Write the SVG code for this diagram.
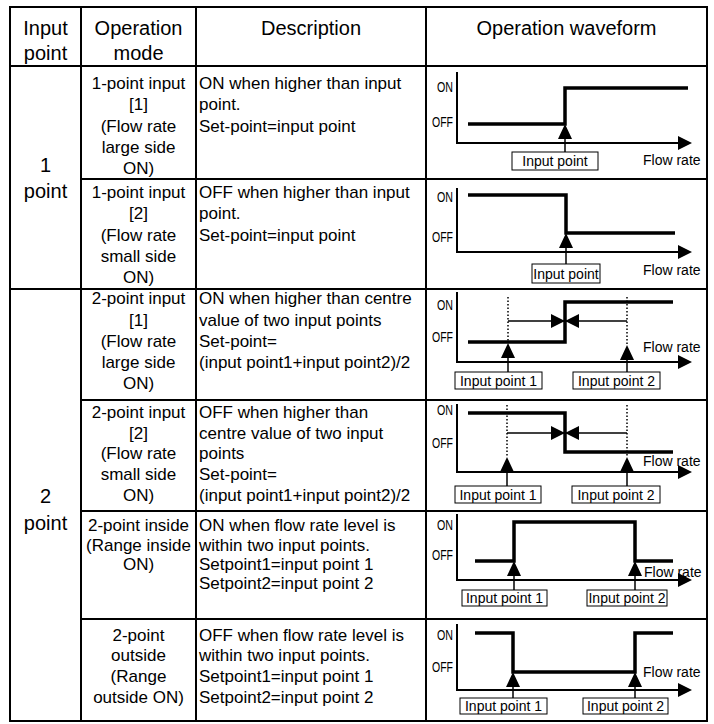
<svg xmlns="http://www.w3.org/2000/svg" width="714" height="724" viewBox="0 0 714 724">
<style>
text{font-family:"Liberation Sans",Arial,sans-serif;fill:#000}
.h{font-size:20px;text-anchor:middle}
.c{font-size:17px;text-anchor:middle}
.d{font-size:17px}
.lb{font-size:14px;text-anchor:middle}
.fr{font-size:14px}
.oo{font-size:15px;text-anchor:end}
.grid{stroke:#000;stroke-width:2;fill:none}
.ax{stroke:#000;stroke-width:2;fill:none}
.wave{stroke:#000;stroke-width:3.5;fill:none;stroke-linejoin:miter}
.thin{stroke:#000;stroke-width:1.5;fill:none}
.dot{stroke:#000;stroke-width:1.5;fill:none;stroke-dasharray:1.5 2}
.box{stroke:#000;stroke-width:1;fill:#fff}
</style>
<defs>
<path id="up" d="M0,0 L-7,15 L7,15 Z" fill="#000"/>
<path id="rt" d="M0,0 L-14,-7 L-14,7 Z" fill="#000"/>
<path id="lt" d="M0,0 L14,-7 L14,7 Z" fill="#000"/>
</defs>
<rect width="714" height="724" fill="#fff"/>
<g id="table">
<rect x="10" y="7" width="697" height="714" class="grid" stroke-width="2.5"/>
<line x1="81" y1="7" x2="81" y2="721" class="grid"/>
<line x1="196" y1="7" x2="196" y2="721" class="grid"/>
<line x1="426" y1="7" x2="426" y2="721" class="grid"/>
<line x1="10" y1="66" x2="707" y2="66" class="grid"/>
<line x1="81" y1="179" x2="707" y2="179" class="grid"/>
<line x1="10" y1="289" x2="707" y2="289" class="grid"/>
<line x1="81" y1="400" x2="707" y2="400" class="grid"/>
<line x1="81" y1="511" x2="707" y2="511" class="grid"/>
<line x1="81" y1="619" x2="707" y2="619" class="grid"/>
</g>
<g id="header">
<text class="h" x="45.5" y="35">Input</text>
<text class="h" x="45.5" y="60">point</text>
<text class="h" x="138.5" y="35">Operation</text>
<text class="h" x="138.5" y="60">mode</text>
<text class="h" x="311" y="35">Description</text>
<text class="h" x="566.5" y="35">Operation waveform</text>
</g>
<g id="group-1point">
<text class="h" x="45.5" y="172">1</text>
<text class="h" x="45.5" y="198">point</text>
</g>
<g id="group-2point">
<text class="h" x="45.5" y="503">2</text>
<text class="h" x="45.5" y="530">point</text>
</g>
<g id="row1">
<text class="c" x="138.5" y="89">1-point input</text>
<text class="c" x="138.5" y="110">[1]</text>
<text class="c" x="138.5" y="131.5">(Flow rate</text>
<text class="c" x="138.5" y="152.5">large side</text>
<text class="c" x="138.5" y="174">ON)</text>
<text class="d" x="199" y="89">ON when higher than input</text>
<text class="d" x="199" y="110">point.</text>
<text class="d" x="199" y="131.5">Set-point=input point</text>
<text class="oo" x="453" y="92" textLength="16" lengthAdjust="spacingAndGlyphs">ON</text>
<text class="oo" x="453" y="127" textLength="21" lengthAdjust="spacingAndGlyphs">OFF</text>
<polyline class="ax" points="457,72 457,143 680,143"/>
<use href="#rt" x="692" y="143"/>
<polyline class="wave" points="468,124 565,124 565,88 688,88"/>
<line class="thin" x1="565" y1="138" x2="565" y2="152"/>
<use href="#up" x="565" y="124"/>
<rect class="box" x="512" y="152" width="86" height="18"/>
<text class="lb" x="555" y="166">Input point</text>
<text class="fr" x="643" y="165">Flow rate</text>
</g>
<g id="row2">
<text class="c" x="138.5" y="198">1-point input</text>
<text class="c" x="138.5" y="219">[2]</text>
<text class="c" x="138.5" y="240.5">(Flow rate</text>
<text class="c" x="138.5" y="262">small side</text>
<text class="c" x="138.5" y="283">ON)</text>
<text class="d" x="199" y="198">OFF when higher than input</text>
<text class="d" x="199" y="219">point.</text>
<text class="d" x="199" y="240.5">Set-point=input point</text>
<text class="oo" x="453" y="202" textLength="16" lengthAdjust="spacingAndGlyphs">ON</text>
<text class="oo" x="453" y="242" textLength="21" lengthAdjust="spacingAndGlyphs">OFF</text>
<polyline class="ax" points="457,188 457,252 680,252"/>
<use href="#rt" x="692" y="252"/>
<polyline class="wave" points="468,195 566,195 566,233 675,233"/>
<line class="thin" x1="566" y1="247" x2="566" y2="264"/>
<use href="#up" x="566" y="233"/>
<rect class="box" x="532" y="264" width="68" height="19"/>
<text class="lb" x="566" y="279">Input point</text>
<text class="fr" x="643" y="275">Flow rate</text>
</g>
<g id="row3">
<text class="c" x="138.5" y="304">2-point input</text>
<text class="c" x="138.5" y="325.5">[1]</text>
<text class="c" x="138.5" y="346.5">(Flow rate</text>
<text class="c" x="138.5" y="368">large side</text>
<text class="c" x="138.5" y="389">ON)</text>
<text class="d" x="199" y="304">ON when higher than centre</text>
<text class="d" x="199" y="325.5">value of two input points</text>
<text class="d" x="199" y="346.5">Set-point=</text>
<text class="d" x="199" y="368">(input point1+input point2)/2</text>
<text class="oo" x="453" y="310" textLength="16" lengthAdjust="spacingAndGlyphs">ON</text>
<text class="oo" x="453" y="342" textLength="21" lengthAdjust="spacingAndGlyphs">OFF</text>
<polyline class="ax" points="457,292 457,362 680,362"/>
<use href="#rt" x="692" y="362"/>
<line class="dot" x1="508" y1="297" x2="508" y2="342"/>
<line class="dot" x1="627" y1="297" x2="627" y2="345"/>
<polyline class="wave" points="468,342 565,342 565,302 673,302"/>
<line class="thin" x1="508" y1="321" x2="627" y2="321"/>
<use href="#rt" x="565" y="321"/>
<use href="#lt" x="565" y="321"/>
<line class="thin" x1="508" y1="356" x2="508" y2="372"/>
<use href="#up" x="508" y="343"/>
<line class="thin" x1="627" y1="358" x2="627" y2="372"/>
<use href="#up" x="627" y="345"/>
<rect class="box" x="455" y="372" width="87" height="17"/>
<text class="lb" x="498.5" y="385.5">Input point 1</text>
<rect class="box" x="573" y="372" width="87" height="17"/>
<text class="lb" x="616.5" y="385.5">Input point 2</text>
<text class="fr" x="643" y="352">Flow rate</text>
</g>
<g id="row4">
<text class="c" x="138.5" y="418">2-point input</text>
<text class="c" x="138.5" y="439">[2]</text>
<text class="c" x="138.5" y="459">(Flow rate</text>
<text class="c" x="138.5" y="480">small side</text>
<text class="c" x="138.5" y="501">ON)</text>
<text class="d" x="199" y="418">OFF when higher than</text>
<text class="d" x="199" y="439">centre value of two input</text>
<text class="d" x="199" y="459">points</text>
<text class="d" x="199" y="480">Set-point=</text>
<text class="d" x="199" y="501">(input point1+input point2)/2</text>
<text class="oo" x="453" y="415" textLength="16" lengthAdjust="spacingAndGlyphs">ON</text>
<text class="oo" x="453" y="448" textLength="21" lengthAdjust="spacingAndGlyphs">OFF</text>
<polyline class="ax" points="457,404 457,472 680,472"/>
<use href="#rt" x="692" y="472"/>
<line class="dot" x1="507" y1="405" x2="507" y2="457"/>
<line class="dot" x1="627" y1="405" x2="627" y2="457"/>
<text class="fr" x="643" y="466">Flow rate</text>
<polyline class="wave" points="468,413 565,413 565,452 673,452"/>
<line class="thin" x1="507" y1="433" x2="627" y2="433"/>
<use href="#rt" x="565" y="433"/>
<use href="#lt" x="565" y="433"/>
<line class="thin" x1="507" y1="470" x2="507" y2="486"/>
<use href="#up" x="507" y="457"/>
<line class="thin" x1="627" y1="470" x2="627" y2="486"/>
<use href="#up" x="627" y="457"/>
<rect class="box" x="455" y="486" width="86" height="17"/>
<text class="lb" x="498" y="499.5">Input point 1</text>
<rect class="box" x="572" y="486" width="88" height="17"/>
<text class="lb" x="616" y="499.5">Input point 2</text>
</g>
<g id="row5">
<text class="c" x="138.5" y="531">2-point inside</text>
<text class="c" x="138.5" y="551">(Range inside</text>
<text class="c" x="138.5" y="570">ON)</text>
<text class="d" x="199" y="531">ON when flow rate level is</text>
<text class="d" x="199" y="551">within two input points.</text>
<text class="d" x="199" y="570">Setpoint1=input point 1</text>
<text class="d" x="199" y="589">Setpoint2=input point 2</text>
<text class="oo" x="453" y="530" textLength="16" lengthAdjust="spacingAndGlyphs">ON</text>
<text class="oo" x="453" y="560" textLength="21" lengthAdjust="spacingAndGlyphs">OFF</text>
<polyline class="ax" points="457,514 457,580 680,580"/>
<use href="#rt" x="692" y="580"/>
<text class="fr" x="644" y="577">Flow rate</text>
<polyline class="wave" points="475,561 514,561 514,522 635,522 635,561 673,561"/>
<line class="thin" x1="514" y1="575" x2="514" y2="590"/>
<use href="#up" x="514" y="561"/>
<line class="thin" x1="635" y1="575" x2="635" y2="590"/>
<use href="#up" x="635" y="561"/>
<rect class="box" x="462" y="590" width="85" height="16"/>
<text class="lb" x="504.5" y="602.5">Input point 1</text>
<rect class="box" x="587" y="590" width="80" height="16"/>
<text class="lb" x="627" y="602.5">Input point 2</text>
</g>
<g id="row6">
<text class="c" x="138.5" y="641">2-point</text>
<text class="c" x="138.5" y="661">outside</text>
<text class="c" x="138.5" y="682">(Range</text>
<text class="c" x="138.5" y="703">outside ON)</text>
<text class="d" x="199" y="641">OFF when flow rate level is</text>
<text class="d" x="199" y="661">within two input points.</text>
<text class="d" x="199" y="682">Setpoint1=input point 1</text>
<text class="d" x="199" y="703">Setpoint2=input point 2</text>
<text class="oo" x="453" y="640" textLength="16" lengthAdjust="spacingAndGlyphs">ON</text>
<text class="oo" x="453" y="672" textLength="21" lengthAdjust="spacingAndGlyphs">OFF</text>
<polyline class="ax" points="457,624 457,690 680,690"/>
<use href="#rt" x="692" y="690"/>
<text class="fr" x="643" y="677">Flow rate</text>
<polyline class="wave" points="475,633 513,633 513,672 635,672 635,633 673,633"/>
<line class="thin" x1="513" y1="686" x2="513" y2="698"/>
<use href="#up" x="513" y="672"/>
<line class="thin" x1="635" y1="686" x2="635" y2="698"/>
<use href="#up" x="635" y="672"/>
<rect class="box" x="460" y="698" width="87" height="16"/>
<text class="lb" x="503.5" y="710.5">Input point 1</text>
<rect class="box" x="583" y="698" width="85" height="16"/>
<text class="lb" x="625.5" y="710.5">Input point 2</text>
</g>
</svg>
